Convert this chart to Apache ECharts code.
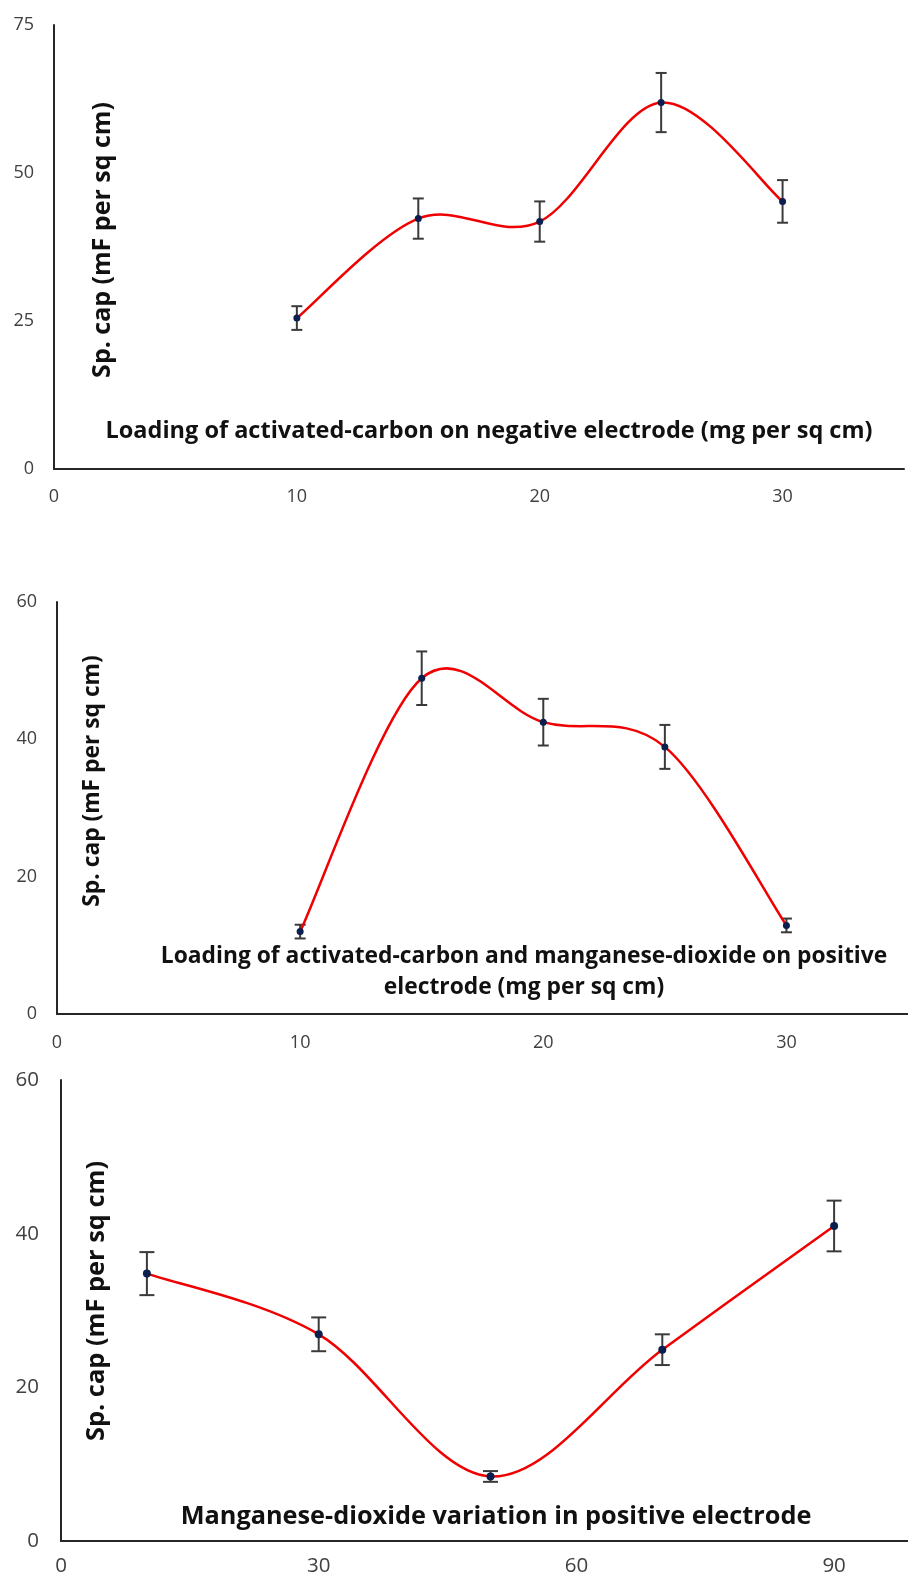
<!DOCTYPE html>
<html>
<head>
<meta charset="utf-8">
<script src="https://cdn.jsdelivr.net/npm/echarts@6/dist/echarts.min.js"></script>
<style>
  html, body { margin: 0; padding: 0; background: #ffffff; }
  #chart { width: 908px; height: 1582px; }
</style>
</head>
<body>
<div id="chart"></div>
<script>
// Panel A: activated-carbon loading on the negative electrode
const loadingNeg = [10, 15, 20, 25, 30];
const capNeg = [25.5, 42.3, 41.8, 61.9, 45.2];
const errNeg = [2.0, 3.4, 3.4, 5.0, 3.6];

// Panel B: activated-carbon + MnO2 loading on the positive electrode
const loadingPos = [10, 15, 20, 25, 30];
const capPos = [12.0, 48.9, 42.5, 38.9, 12.9];
const errPos = [1.0, 3.9, 3.4, 3.2, 1.0];

// Panel C: MnO2 fraction in the positive electrode
const mnO2Share = [10, 30, 50, 70, 90];
const capMn = [34.8, 26.9, 8.4, 24.9, 41.0];
const errMn = [2.8, 2.2, 0.7, 2.0, 3.3];

// Axis ranges and tick steps: [min, max, interval]
const xRangeA = [0, 35, 10], yRangeA = [0, 75, 25];
const xRangeB = [0, 35, 10], yRangeB = [0, 60, 20];
const xRangeC = [0, 100, 30], yRangeC = [0, 60, 20];

const yTitle = 'Sp. cap (mF per sq cm)';
const xTitleA = 'Loading of activated-carbon on negative electrode (mg per sq cm)';
const xTitleB = 'Loading of activated-carbon and manganese-dioxide on positive\nelectrode (mg per sq cm)';
const xTitleC = 'Manganese-dioxide variation in positive electrode';

const FONT = '"Open Sans", "Noto Sans", sans-serif';
const AXIS_COLOR = '#262626';
const LABEL_COLOR = '#404040';

function valueAxis(idx, range, labelSize, margin) {
  return {
    type: 'value', gridIndex: idx,
    min: range[0], max: range[1], interval: range[2],
    axisLine: { show: true, lineStyle: { color: AXIS_COLOR, width: 2 } },
    axisTick: { show: false },
    splitLine: { show: false },
    axisLabel: {
      color: LABEL_COLOR, fontSize: labelSize, fontFamily: FONT,
      margin: margin, showMaxLabel: range[1] % range[2] === 0
    }
  };
}

// Smoothed connecting curve: each item draws the cubic segment to the next
// point, with control points taken from the neighbouring points (1/6 rule).
function smoothCurve(idx, xs, ys) {
  const n = xs.length;
  return {
    type: 'custom', xAxisIndex: idx, yAxisIndex: idx,
    data: xs.map((x, i) => [x, ys[i]]),
    encode: { x: 0, y: 1 },
    renderItem(params, api) {
      const i = params.dataIndex;
      if (i >= n - 1) return null;
      const pt = (j) => {
        const k = Math.max(0, Math.min(n - 1, j));
        return api.coord([xs[k], ys[k]]);
      };
      const p0 = pt(i - 1), p1 = pt(i), p2 = pt(i + 1), p3 = pt(i + 2);
      return {
        type: 'bezierCurve',
        shape: {
          x1: p1[0], y1: p1[1], x2: p2[0], y2: p2[1],
          cpx1: p1[0] + (p2[0] - p0[0]) / 6, cpy1: p1[1] + (p2[1] - p0[1]) / 6,
          cpx2: p2[0] - (p3[0] - p1[0]) / 6, cpy2: p2[1] - (p3[1] - p1[1]) / 6
        },
        style: { stroke: '#f00000', lineWidth: 2.5, fill: null }
      };
    },
    z: 4, silent: true
  };
}

function markers(idx, xs, ys, size) {
  return {
    type: 'scatter', xAxisIndex: idx, yAxisIndex: idx,
    data: xs.map((x, i) => [x, ys[i]]),
    symbol: 'circle', symbolSize: size,
    itemStyle: { color: '#0b1f4e', opacity: 1 },
    z: 5, silent: true
  };
}

function errorBars(idx, xs, ys, errs, capHalf) {
  return {
    type: 'custom', xAxisIndex: idx, yAxisIndex: idx,
    data: xs.map((x, i) => [x, ys[i] - errs[i], ys[i] + errs[i]]),
    encode: { x: 0, y: [1, 2] },
    renderItem(params, api) {
      const lo = api.coord([api.value(0), api.value(1)]);
      const hi = api.coord([api.value(0), api.value(2)]);
      const style = { stroke: '#3a3a3a', lineWidth: 2 };
      return {
        type: 'group',
        children: [
          { type: 'line', shape: { x1: hi[0], y1: hi[1], x2: lo[0], y2: lo[1] }, style },
          { type: 'line', shape: { x1: hi[0] - capHalf, y1: hi[1], x2: hi[0] + capHalf, y2: hi[1] }, style },
          { type: 'line', shape: { x1: lo[0] - capHalf, y1: lo[1], x2: lo[0] + capHalf, y2: lo[1] }, style }
        ]
      };
    },
    z: 3, silent: true
  };
}

function label(text, x, y, size, rotate) {
  return {
    type: 'text', x: x, y: y, rotation: rotate ? Math.PI / 2 : 0, z: 10,
    style: {
      text: text, fill: '#111111', fontFamily: FONT, fontWeight: 'bold',
      fontSize: size, lineHeight: 31,
      textAlign: 'center', textVerticalAlign: 'middle'
    }
  };
}

const chart = echarts.init(document.getElementById('chart'), null, { renderer: 'canvas' });

chart.setOption({
  animation: false,
  backgroundColor: '#ffffff',
  grid: [
    { left: 54, top: 25, width: 850, height: 444, outerBoundsMode: 'none', containLabel: false },
    { left: 57, top: 602, width: 851, height: 412, outerBoundsMode: 'none', containLabel: false },
    { left: 61, top: 1080, width: 859, height: 461, outerBoundsMode: 'none', containLabel: false }
  ],
  xAxis: [
    valueAxis(0, xRangeA, 18, 19),
    valueAxis(1, xRangeB, 18, 20),
    valueAxis(2, xRangeC, 20.5, 15)
  ],
  yAxis: [
    valueAxis(0, yRangeA, 18, 20),
    valueAxis(1, yRangeB, 18, 20),
    valueAxis(2, yRangeC, 20.5, 22)
  ],
  series: [
    errorBars(0, loadingNeg, capNeg, errNeg, 5.5),
    smoothCurve(0, loadingNeg, capNeg),
    markers(0, loadingNeg, capNeg, 7),
    errorBars(1, loadingPos, capPos, errPos, 5.5),
    smoothCurve(1, loadingPos, capPos),
    markers(1, loadingPos, capPos, 7),
    errorBars(2, mnO2Share, capMn, errMn, 7.5),
    smoothCurve(2, mnO2Share, capMn),
    markers(2, mnO2Share, capMn, 8)
  ],
  graphic: [
    label(yTitle, 103, 240, 25, true),
    label(xTitleA, 489, 431, 23.5, false),
    label(yTitle, 93, 781, 22.8, true),
    label(xTitleB, 524, 972, 22.8, false),
    label(yTitle, 97, 1301, 25.4, true),
    label(xTitleC, 496, 1517, 25.3, false)
  ]
});
</script>
</body>
</html>
